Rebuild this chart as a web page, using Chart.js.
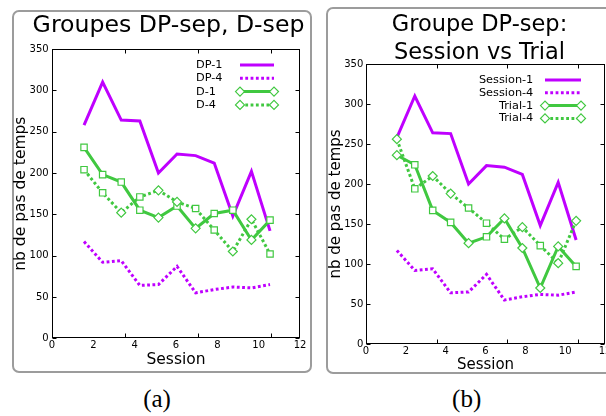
<!DOCTYPE html>
<html><head><meta charset="utf-8">
<script src="https://cdn.jsdelivr.net/npm/chart.js@4"></script>
<style>
html,body{margin:0;padding:0;background:#fff;width:606px;height:416px;overflow:hidden;position:relative;}
.box{position:absolute;box-sizing:border-box;border:2.5px solid #9c9c9c;border-radius:7px;}
canvas{position:absolute;top:0;}
.cap{position:absolute;top:386px;width:100px;text-align:center;font:25px 'Liberation Serif',serif;line-height:25px;color:#000;}
</style></head><body>
<div class="box" style="left:12px;top:9.5px;width:300px;height:363.5px"></div>
<div class="box" style="left:325.5px;top:7px;width:300px;height:367px"></div>
<canvas id="ca" width="318" height="380" style="left:0"></canvas>
<canvas id="cb" width="300" height="380" style="left:318px"></canvas>
<div class="cap" style="left:107px">(a)</div>
<div class="cap" style="left:416.7px">(b)</div>
<script>
// ---- data ----
const sessionX = [1.55, 2.45, 3.35, 4.25, 5.15, 6.05, 6.95, 7.85, 8.75, 9.65, 10.55];
const dp1 = [258, 310, 264, 263, 200, 223, 221, 212, 148, 202, 130];   // = Session-1
const dp4 = [117, 92, 94, 64, 65, 87, 55, 59, 62, 61, 65];              // = Session-4
const d1 = [231, 198, 189, 155, 146, 160, 133, 151, 155, 119, 143];
const d4 = [204, 176, 152, 171, 179, 165, 157, 131, 105, 144, 102];
const trial1 = [236, 224, 167, 152, 126, 134, 157, 120, 70, 122, 97];
const trial4 = [256, 194, 210, 188, 170, 151, 131, 146, 123, 101, 154];
const xTickLabels = [0, 2, 4, 6, 8, 10, 12];
const yTickLabels = [0, 50, 100, 150, 200, 250, 300, 350];
const xTickMarks = [3.54, 7.08, 10.62];

// ---- styles ----
const S = 'rect', D = 'rectRot';
const d1Markers = [S, S, S, S, D, S, D, S, S, D, S];
const d4Markers = [S, S, D, S, D, D, S, S, D, D, S];
const t1Markers = [D, S, S, S, D, S, D, D, D, D, S];
const t4Markers = [D, S, D, D, S, S, S, D, S, D, D];
const FONT = "'DejaVu Sans', sans-serif";
const PURPLE = '#bf00ff', GREEN = '#40c840';
const DOT = [2.8, 2.5];

const pts = vals => vals.map((v, i) => ({x: sessionX[i], y: v}));

function purpleSet(label, vals, dotted, order) {
  return {label, data: pts(vals), borderColor: PURPLE, backgroundColor: PURPLE,
    borderWidth: 3, borderDash: dotted ? DOT : [], borderCapStyle: 'butt',
    pointRadius: 0, tension: 0, order, legendMarker: false};
}
function greenSet(label, vals, dotted, markers, order) {
  return {label, data: pts(vals), borderColor: GREEN, backgroundColor: '#fff',
    borderWidth: 3, borderDash: dotted ? DOT : [], borderCapStyle: 'butt',
    pointStyle: markers, pointRadius: 4.5, pointBorderWidth: 1.2,
    pointBorderColor: GREEN, pointBackgroundColor: '#fff', tension: 0, order, legendMarker: true};
}

const titlePlugin = {
  id: 'panelTitle',
  afterDraw(chart, args, o) {
    const ctx = chart.ctx;
    ctx.save();
    ctx.fillStyle = '#000';
    ctx.font = o.size + 'px ' + FONT;
    ctx.textAlign = 'center';
    ctx.textBaseline = 'alphabetic';
    o.lines.forEach((t, i) => ctx.fillText(t, o.x, o.y + i * o.gap));
    ctx.restore();
  }
};

const frameTicks = {
  id: 'frameTicks',
  afterDatasetsDraw(chart, args, o) {
    const {ctx, chartArea: a, scales: {x, y}} = chart;
    ctx.save();
    ctx.strokeStyle = '#000';
    ctx.lineWidth = 1;
    const L = Math.round(a.left) + 0.5, R = Math.round(a.right) - 0.5;
    const T = Math.round(a.top) + 0.5, B = Math.round(a.bottom) - 0.5;
    ctx.strokeRect(L, T, R - L, B - T);
    ctx.beginPath();
    yTickLabels.forEach(v => {
      const py = Math.round(y.getPixelForValue(v)) + 0.5;
      ctx.moveTo(L, py); ctx.lineTo(L + 4, py);
      ctx.moveTo(R, py); ctx.lineTo(R - 4, py);
    });
    xTickMarks.forEach(v => {
      const px = Math.round(x.getPixelForValue(v)) + 0.5;
      ctx.moveTo(px, B); ctx.lineTo(px, B - 4);
      ctx.moveTo(px, T); ctx.lineTo(px, T + 4);
    });
    ctx.stroke();
    ctx.restore();
  }
};

const sideLegend = {
  id: 'sideLegend',
  afterDraw(chart, args, o) {
    const {ctx, chartArea: a} = chart;
    ctx.save();
    chart.data.datasets.forEach((ds, i) => {
      const yy = a.top + o.top + i * o.gap;
      ctx.fillStyle = '#000';
      ctx.font = o.size + 'px ' + FONT;
      ctx.textAlign = o.align;
      ctx.textBaseline = 'middle';
      ctx.fillText(ds.label, a.right + o.textX, yy);
      const x1 = a.right + o.lineX1, x2 = a.right + o.lineX2;
      ctx.strokeStyle = ds.borderColor;
      ctx.lineWidth = ds.borderWidth;
      ctx.lineCap = 'butt';
      ctx.setLineDash(ds.borderDash);
      ctx.beginPath(); ctx.moveTo(x1, yy); ctx.lineTo(x2, yy); ctx.stroke();
      ctx.setLineDash([]);
      if (ds.legendMarker) {
        ctx.fillStyle = '#fff';
        ctx.strokeStyle = GREEN;
        ctx.lineWidth = 1.2;
        [x1, x2].forEach(px => Chart.helpers.drawPoint(ctx,
          {pointStyle: 'rectRot', radius: 4.5, rotation: 0, borderWidth: 1.2}, px, yy));
      }
    });
    ctx.restore();
  }
};

function makeChart(id, datasets, p) {
  return new Chart(document.getElementById(id), {
    type: 'line',
    data: {datasets},
    plugins: [frameTicks, sideLegend, titlePlugin],
    options: {
      responsive: false, animation: false, devicePixelRatio: 1,
      layout: {padding: p.padding},
      plugins: {
        legend: {display: false}, title: {display: false}, tooltip: {enabled: false},
        panelTitle: p.title, sideLegend: p.legend
      },
      scales: {
        x: {
          type: 'linear', min: 0, max: 12,
          afterBuildTicks: s => { s.ticks = xTickLabels.map(v => ({value: v})); },
          ticks: {color: '#000', font: {family: FONT, size: 10}, padding: p.xTickPad, maxRotation: 0, autoSkip: false},
          grid: {display: false, drawTicks: false}, border: {display: false},
          title: {display: true, text: 'Session', color: '#000',
            font: {family: FONT, size: p.axisTitleSize}, padding: {top: 0, bottom: p.xTitlePad}},
          afterFit: s => { s.height = 35; }
        },
        y: {
          type: 'linear', min: 0, max: 350,
          afterBuildTicks: s => { s.ticks = yTickLabels.map(v => ({value: v})); },
          ticks: {color: '#000', font: {family: FONT, size: 10}, padding: p.yTickPad},
          grid: {display: false, drawTicks: false}, border: {display: false},
          title: {display: true, text: 'nb de pas de temps', color: '#000',
            font: {family: FONT, size: p.axisTitleSize}, padding: {top: p.yTitlePad, bottom: 0}},
          afterFit: s => { s.width = 40; }
        }
      }
    }
  });
}

makeChart('ca', [
  purpleSet('DP-1', dp1, false, 3),
  purpleSet('DP-4', dp4, true, 2),
  greenSet('D-1', d1, false, d1Markers, 1),
  greenSet('D-4', d4, true, d4Markers, 0)
], {
  padding: {left: 12, right: 18, top: 49, bottom: 6.7},
  xTickPad: 1.5, yTickPad: 3.3, xTitlePad: 3.7, yTitlePad: 0, axisTitleSize: 15.5,
  title: {lines: ['Groupes DP-sep, D-sep'], x: 168.5, y: 31.5, gap: 0, size: 23.6},
  legend: {textX: -104, align: 'left', lineX1: -60, lineX2: -26, top: 16, gap: 13.3, size: 11.3}
});

makeChart('cb', [
  purpleSet('Session-1', dp1, false, 3),
  purpleSet('Session-4', dp4, true, 2),
  greenSet('Trial-1', trial1, false, t1Markers, 1),
  greenSet('Trial-4', trial4, true, t4Markers, 0)
], {
  padding: {left: 8, right: 13, top: 64, bottom: 1},
  xTickPad: 1, yTickPad: 2.7, xTitlePad: 5.2, yTitlePad: 1.5, axisTitleSize: 15,
  title: {lines: ['Groupe DP-sep:', 'Session vs Trial'], x: 161.5, y: 31, gap: 28, size: 22.5},
  legend: {textX: -71.7, align: 'right', lineX1: -60, lineX2: -24, top: 16, gap: 12.8, size: 11.3}
});
</script>
</body></html>
